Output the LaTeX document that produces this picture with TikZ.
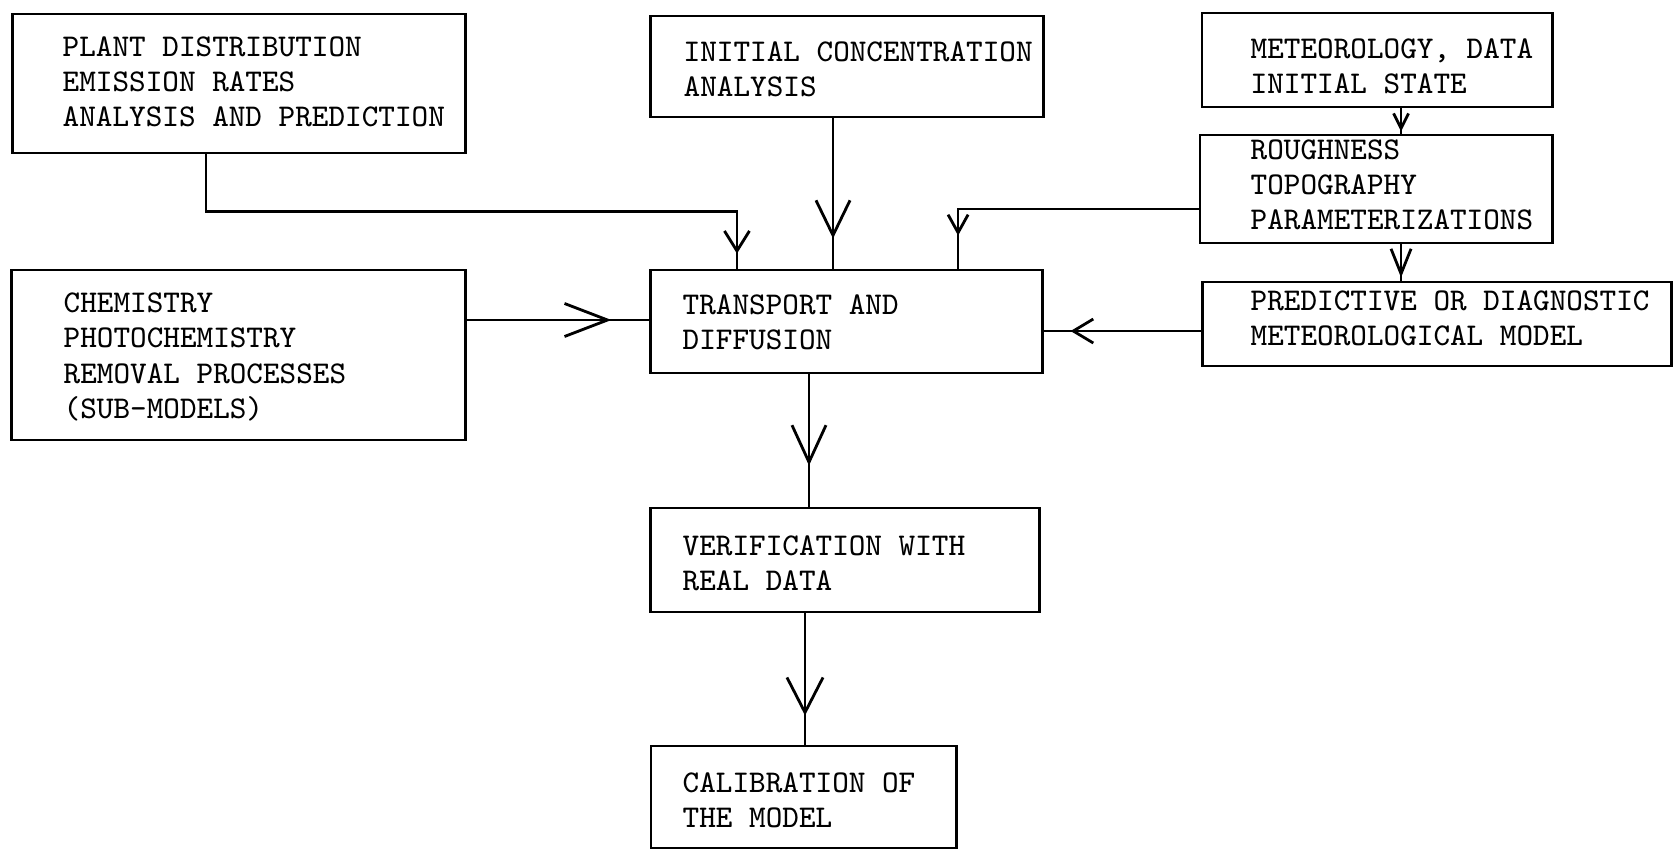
\documentclass[tikz,border=0pt]{standalone}
\usetikzlibrary{arrows.meta,decorations.markings}
\begin{document}
\begin{tikzpicture}[x=0.01cm,y=-0.01cm,
  box/.style={draw,line width=0.8pt,rectangle,inner sep=0pt},
  txt/.style={font=\ttfamily\fontsize{9}{10}\selectfont,align=left,inner sep=0pt,anchor=west},
  conn/.style={line width=0.8pt},
  arr/.style n args={3}{postaction={decorate,decoration={markings,
      mark=at position #1 with {\arrow[line width=0.8pt]{Straight Barb[length=#2,width=#3]}}}}}
]
\useasboundingbox (0,0) rectangle (1674,853);
% boxes
\node[box,minimum width=4.52cm,minimum height=1.39cm] (plant) at (239,83.5) {};
\node[box,minimum width=4.53cm,minimum height=1.70cm] (chem) at (238.5,355) {};
\node[box,minimum width=3.92cm,minimum height=1.01cm] (init) at (847,66.5) {};
\node[box,minimum width=3.91cm,minimum height=1.03cm] (tr) at (846.5,321.5) {};
\node[box,minimum width=3.88cm,minimum height=1.04cm] (verif) at (845,560) {};
\node[box,minimum width=3.05cm,minimum height=1.02cm] (calib) at (803.5,797) {};
\node[box,minimum width=3.50cm,minimum height=0.94cm] (meteo) at (1377,60) {};
\node[box,minimum width=3.52cm,minimum height=1.08cm] (rough) at (1376,189) {};
\node[box,minimum width=4.68cm,minimum height=0.84cm] (pred) at (1437,324) {};
% texts
\node[txt] (tplant) at (62,82) {PLANT DISTRIBUTION\\EMISSION RATES\\ANALYSIS AND PREDICTION};
\node[txt] (tchem) at (63,357) {CHEMISTRY\\PHOTOCHEMISTRY\\REMOVAL PROCESSES\\(SUB-MODELS)};
\node[txt] (tinit) at (683,69) {INITIAL CONCENTRATION\\ANALYSIS};
\node[txt] (ttr) at (682,322) {TRANSPORT AND\\DIFFUSION};
\node[txt] (tverif) at (682,563) {VERIFICATION WITH\\REAL DATA};
\node[txt] (tcalib) at (682,800) {CALIBRATION OF\\THE MODEL};
\node[txt] (tmeteo) at (1250,66) {METEOROLOGY, DATA\\INITIAL STATE};
\node[txt] (trough) at (1250,185) {ROUGHNESS\\TOPOGRAPHY\\PARAMETERIZATIONS};
\node[txt] (tpred) at (1250,318) {PREDICTIVE OR DIAGNOSTIC\\METEOROLOGICAL MODEL};
% connectors
\draw[conn,arr={-0.15cm}{0.2cm}{0.25cm}] ([xshift=-0.33cm]plant.south) -- ++(0,57) -| ([xshift=-1.095cm]tr.north);
\draw[conn,arr={-0.30cm}{0.35cm}{0.34cm}] ([xshift=-0.14cm]init.south) -- ([xshift=-0.14cm]init.south |- tr.north);
\draw[conn,arr={-0.33cm}{0.18cm}{0.2cm}] ([yshift=-0.2cm]rough.west) -| ([xshift=1.115cm]tr.north);
\draw[conn,arr={-0.27cm}{0.2cm}{0.24cm}] ([yshift=-0.07cm]pred.west) -- ([yshift=-0.07cm]pred.west -| tr.east);
\draw[conn,arr={-0.38cm}{0.43cm}{0.33cm}] ([yshift=0.35cm]chem.east) -- ([yshift=0.35cm]chem.east -| tr.west);
\draw[conn,arr={-0.02cm}{0.15cm}{0.15cm}] ([xshift=0.24cm]meteo.south) -- ([xshift=0.24cm]meteo.south |- rough.north);
\draw[conn,arr={-0.03cm}{0.25cm}{0.2cm}] ([xshift=0.25cm]rough.south) -- ([xshift=0.25cm]rough.south |- pred.north);
\draw[conn,arr={-0.41cm}{0.37cm}{0.34cm}] ([xshift=-0.375cm]tr.south) -- ([xshift=-0.375cm]tr.south |- verif.north);
\draw[conn,arr={-0.29cm}{0.35cm}{0.36cm}] ([xshift=-0.40cm]verif.south) -- ([xshift=-0.40cm]verif.south |- calib.north);
\end{tikzpicture}
\end{document}
